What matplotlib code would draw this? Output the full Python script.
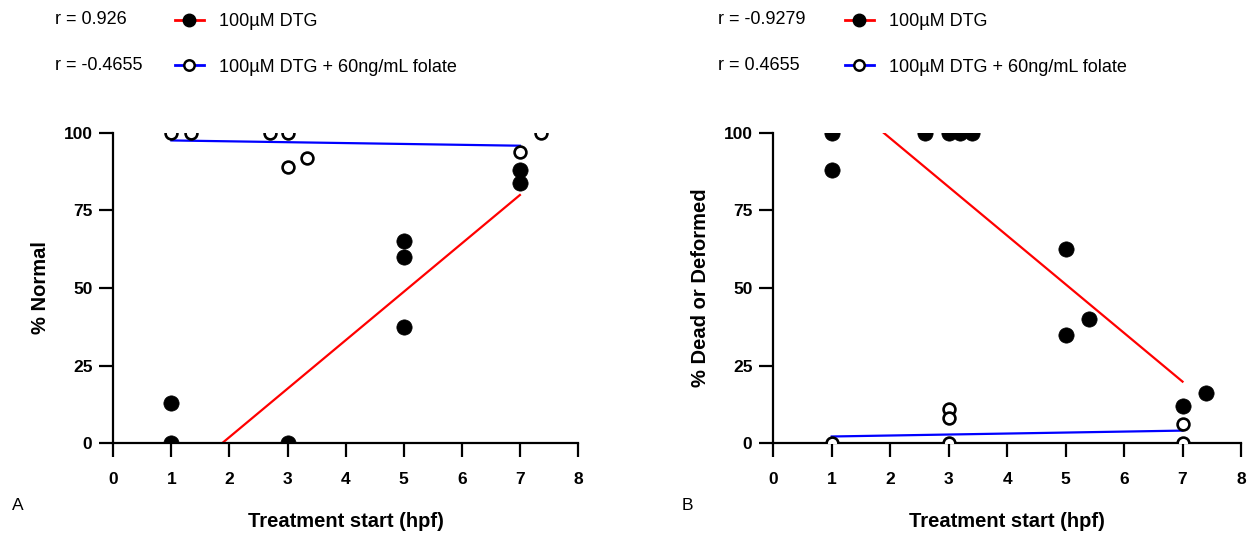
import matplotlib
matplotlib.use("Agg")
import matplotlib.pyplot as plt
from matplotlib.lines import Line2D
import numpy as np

plt.rcParams['font.family'] = ['Liberation Sans', 'DejaVu Sans']

# ---- data ----
# Panel A: % Normal
xa_dtg = [1, 1, 3, 5, 5, 5, 7, 7]
ya_dtg = [13, 0, 0, 65, 60, 37.5, 88, 84]
xa_fol = [1, 1.33, 2.7, 3, 3, 3.33, 7, 7.36]
ya_fol = [100, 100, 100, 100, 89, 92, 94, 100]
# Panel B: % Dead or Deformed
xb_dtg = [1, 1, 2.6, 3, 3.2, 3.4, 5, 5, 5.4, 7, 7.4]
yb_dtg = [100, 88, 100, 100, 100, 100, 62.5, 35, 40, 12, 16]
xb_fol = [1, 3, 3, 3, 7, 7]
yb_fol = [0, 0, 11, 8, 6, 0]
# regression lines (values at x = 1 and x = 7)
fit_x = [1, 7]
fit_a_dtg = [-13.7, 80.0]
fit_a_fol = [97.6, 95.9]
fit_b_dtg = [114.0, 19.8]
fit_b_fol = [2.1, 4.0]

r_a = ["r = 0.926", "r = -0.4655"]
r_b = ["r = -0.9279", "r = 0.4655"]
labels = ["100\u00b5M DTG", "100\u00b5M DTG + 60ng/mL folate"]
xticks = [0, 1, 2, 3, 4, 5, 6, 7, 8]
yticks = [0, 25, 50, 75, 100]

W, H = 1249, 533
fig = plt.figure(figsize=(W / 100, H / 100), dpi=100)

def fx(px):
    return px / W

def fy(py):
    return 1 - py / H

axA = fig.add_axes([fx(113.3), fy(443), fx(578) - fx(113.3), fy(133) - fy(443)])
axB = fig.add_axes([fx(773.3), fy(443), fx(1241) - fx(773.3), fy(133) - fy(443)])

def style(ax, ylabel):
    ax.set_xlim(0, 8)
    ax.set_ylim(0, 100)
    ax.set_xticks(xticks)
    ax.set_yticks(yticks)
    for s in ['top', 'right']:
        ax.spines[s].set_visible(False)
    for s in ['left', 'bottom']:
        ax.spines[s].set_linewidth(1.6)
    ax.tick_params(axis='both', length=10, width=1.6, labelsize=12.5)
    ax.tick_params(axis='x', pad=11)
    ax.tick_params(axis='y', pad=5)
    for t in ax.get_xticklabels() + ax.get_yticklabels():
        t.set_fontweight('bold')
    ax.set_xlabel("Treatment start (hpf)", fontsize=14.5, fontweight='bold', labelpad=18)
    ax.set_ylabel(ylabel, fontsize=14.5, fontweight='bold', labelpad=10)

def draw(ax, xd, yd, xf, yf, fd, ff):
    ax.plot(fit_x, fd, color='#ff0000', lw=1.6, zorder=2)
    ax.plot(fit_x, ff, color='#0000ff', lw=1.6, zorder=2)
    ax.plot(xd, yd, 'o', ls='none', color='black', ms=11, mew=0.5, zorder=3)
    ax.plot(xf, yf, 'o', ls='none', mfc='white', mec='black', ms=8.5, mew=1.9, zorder=3)

draw(axA, xa_dtg, ya_dtg, xa_fol, ya_fol, fit_a_dtg, fit_a_fol)
draw(axB, xb_dtg, yb_dtg, xb_fol, yb_fol, fit_b_dtg, fit_b_fol)
style(axA, "% Normal")
style(axB, "% Dead or Deformed")

handles = [
    Line2D([], [], color='#ff0000', lw=2, marker='o', ms=9, mfc='black', mec='black'),
    Line2D([], [], color='#0000ff', lw=2, marker='o', ms=7.5, mfc='white', mec='black', mew=1.8),
]

for ax, hx, rx, rv in [(axA, 175, 55, r_a), (axB, 845, 718, r_b)]:
    leg = ax.legend(handles, labels, loc='upper left',
                    bbox_to_anchor=(fx(hx), fy(13)), bbox_transform=fig.transFigure,
                    frameon=False, fontsize=13, borderpad=0, borderaxespad=0,
                    handlelength=1.6, handletextpad=0.85, labelspacing=1.58)
    for i, r in enumerate(rv):
        fig.text(fx(rx), fy(20 + 45 * i), r, fontsize=13, va='center', ha='left')

fig.text(fx(12), fy(505), "A", fontsize=12.5, va='center', ha='left')
fig.text(fx(682), fy(505), "B", fontsize=12.5, va='center', ha='left')

fig.savefig("out.png", dpi=100)
